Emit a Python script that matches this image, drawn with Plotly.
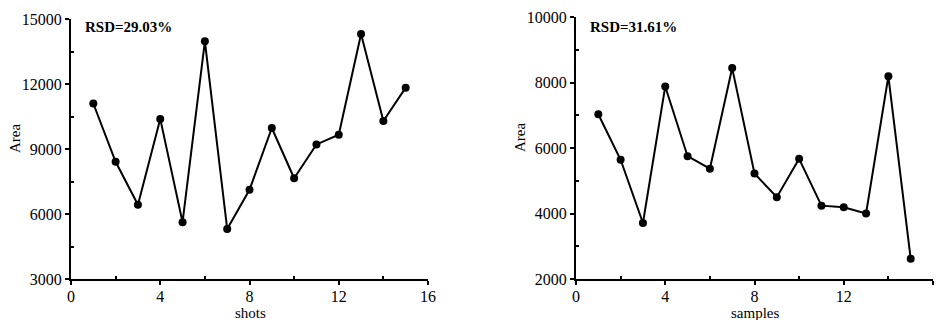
import plotly.graph_objects as go

shots = list(range(1, 16))
area_shots = [11100, 8410, 6430, 10390, 5620, 13970, 5310, 7120, 9970, 7650, 9210, 9660, 14310, 10290, 11830]
samples = list(range(1, 16))
area_samples = [7030, 5640, 3710, 7880, 5750, 5370, 8440, 5220, 4500, 5670, 4240, 4190, 4000, 8190, 2620]
rsd_labels = ["RSD=29.03%", "RSD=31.61%"]
x_titles = ["shots", "samples"]
y_title = "Area"
x_ticks = [0, 4, 8, 12, 16]
y_ticks_left = [3000, 6000, 9000, 12000, 15000]
y_ticks_right = [2000, 4000, 6000, 8000, 10000]

FONT = "Liberation Serif, Times New Roman, serif"
fig = go.Figure()
fig.add_trace(go.Scatter(x=shots, y=area_shots, mode="lines+markers",
                         line=dict(color="black", width=2),
                         marker=dict(color="black", size=8), xaxis="x", yaxis="y"))
fig.add_trace(go.Scatter(x=samples, y=area_samples, mode="lines+markers",
                         line=dict(color="black", width=2),
                         marker=dict(color="black", size=8), xaxis="x2", yaxis="y2"))

def xax(domain, anchor):
    return dict(domain=domain, anchor=anchor, range=[0, 16], tickvals=x_ticks,
                ticktext=[str(v) for v in x_ticks], automargin=False,
                showline=True, linecolor="black", linewidth=2, ticks="outside", ticklen=4,
                tickwidth=1.5, tickcolor="black", showgrid=False, zeroline=False,
                ticklabelstandoff=-2,
                tickfont=dict(family=FONT, size=16, color="black"),
                minor=dict(tickvals=[2, 6, 10, 14], ticks="inside", ticklen=3,
                           tickcolor="black", tickwidth=1.5))

def yax(domain, anchor, rng, major, minor):
    return dict(domain=domain, anchor=anchor, range=rng, tickvals=major,
                ticktext=[str(v) for v in major], automargin=False,
                showline=True, linecolor="black", linewidth=2, ticks="outside", ticklen=4,
                tickwidth=1.5, tickcolor="black", showgrid=False, zeroline=False,
                tickfont=dict(family=FONT, size=16, color="black"),
                minor=dict(tickvals=minor, ticks="inside", ticklen=3,
                           tickcolor="black", tickwidth=1.5))

fig.update_layout(
    width=940, height=320, margin=dict(l=0, r=0, t=0, b=0),
    paper_bgcolor="white", plot_bgcolor="white", showlegend=False,
    xaxis=xax([71/940, 428/940], "y"),
    yaxis=yax([1-279/320, 1-19/320], "x", [3000, 15000],
              y_ticks_left, [4500, 7500, 10500, 13500]),
    xaxis2=xax([576/940, 933/940], "y2"),
    yaxis2=yax([1-279/320, 1-17/320], "x2", [2000, 10000],
               y_ticks_right, [3000, 5000, 7000, 9000]),
)

annos = [
    dict(x=83/940, y=1-27/320, text="<b>" + rsd_labels[0] + "</b>", xanchor="left", yanchor="middle"),
    dict(x=588/940, y=1-27/320, text="<b>" + rsd_labels[1] + "</b>", xanchor="left", yanchor="middle"),
    dict(x=250/940, y=1-313/320, text=x_titles[0], xanchor="center", yanchor="middle"),
    dict(x=755/940, y=1-313/320, text=x_titles[1], xanchor="center", yanchor="middle"),
    dict(x=15/940, y=1-138/320, text=y_title, xanchor="center", yanchor="middle", textangle=-90),
    dict(x=520/940, y=1-138/320, text=y_title, xanchor="center", yanchor="middle", textangle=-90),
]
for a in annos:
    fig.add_annotation(xref="paper", yref="paper", showarrow=False,
                       font=dict(family=FONT, size=15, color="black"), **a)

fig.write_html("out.html")
